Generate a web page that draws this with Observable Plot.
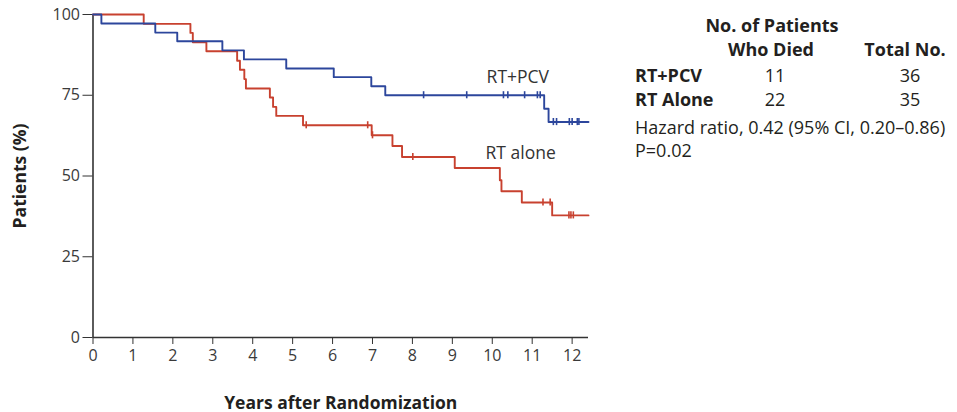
<!DOCTYPE html>
<html>
<head>
<meta charset="utf-8">
<script src="https://cdn.jsdelivr.net/npm/d3@7"></script>
<script src="https://cdn.jsdelivr.net/npm/@observablehq/plot@0.6"></script>
<style>
  html, body { margin: 0; padding: 0; background: #fff; }
  #wrap { position: relative; width: 957px; height: 412px; font-family: "Open Sans", sans-serif; color: #231f20; }
  #wrap svg { position: absolute; left: 0; top: 0; }
  [aria-label="x-axis label"], [aria-label="y-axis label"] { font-weight: 700; font-size: 17.5px; fill: #231f20; }
  [aria-label="x-axis tick label"], [aria-label="y-axis tick label"] { fill: #3a3a3a; }
  .lg { position: absolute; font-size: 18px; white-space: nowrap; line-height: 1; transform: translateY(-50%); }
  .b { font-weight: 700; }
  .c { transform: translate(-50%, -50%); }
</style>
</head>
<body>
<div id="wrap"></div>
<script>
// ---- data ----
const pcvTime  = [0, 0.21, 1.56, 2.11, 3.24, 3.78, 4.84, 6.03, 6.97, 7.32, 11.3, 11.41, 12.41];
const pcvSurv  = [100, 97.2, 94.4, 91.7, 88.9, 86.1, 83.3, 80.6, 77.8, 75.0, 70.8, 66.7, 66.7];
const pcvCensorTime = [8.28, 9.36, 10.28, 10.39, 10.81, 11.13, 11.2, 11.53, 11.61, 11.93, 12.0, 12.13, 12.17];
const pcvCensorSurv = [75.0, 75.0, 75.0, 75.0, 75.0, 75.0, 75.0, 66.7, 66.7, 66.7, 66.7, 66.7, 66.7];

const aloneTime = [0, 1.27, 2.44, 2.5, 2.84, 3.61, 3.68, 3.79, 3.83, 4.43, 4.51, 4.59, 5.26, 6.98, 7.5, 7.74, 9.06, 10.19, 10.23, 10.74, 11.5, 12.41];
const aloneSurv = [100, 97.1, 94.3, 91.4, 88.6, 85.7, 82.9, 80.0, 77.1, 74.3, 71.4, 68.6, 65.7, 62.6, 59.3, 55.9, 52.5, 48.7, 45.3, 41.8, 37.8, 37.8];
const aloneCensorTime = [5.34, 6.88, 7.0, 8.01, 11.27, 11.45, 11.92, 11.97, 12.03];
const aloneCensorSurv = [65.7, 65.7, 62.6, 55.9, 41.8, 41.8, 37.8, 37.8, 37.8];

const xTicks = [0, 1, 2, 3, 4, 5, 6, 7, 8, 9, 10, 11, 12];
const yTicks = [0, 25, 50, 75, 100];

const groups = ["RT+PCV", "RT Alone"];
const died = [11, 22];
const total = [36, 35];
const seriesLabels = ["RT+PCV", "RT alone"];

// ---- build tables ----
const blue = "#2c469c", red = "#c8412f";
const pcv = pcvTime.map((t, i) => ({t, s: pcvSurv[i]}));
const alone = aloneTime.map((t, i) => ({t, s: aloneSurv[i]}));
const pcvC = pcvCensorTime.map((t, i) => ({t, s: pcvCensorSurv[i]}));
const aloneC = aloneCensorTime.map((t, i) => ({t, s: aloneCensorSurv[i]}));

const chart = Plot.plot({
  width: 957,
  height: 412,
  marginLeft: 92.5,
  marginRight: 369,
  marginTop: 14,
  marginBottom: 75,
  style: {fontFamily: "Open Sans, sans-serif", fontSize: "16px", color: "#333", background: "transparent", overflow: "visible"},
  x: {domain: [0, 12.41], ticks: xTicks, tickSize: 7, tickPadding: 5, label: "Years after Randomization", labelAnchor: "center", labelArrow: "none", labelOffset: 71},
  y: {domain: [0, 100], ticks: yTicks, tickSize: 10, tickPadding: 3, label: "Patients (%)", labelAnchor: "center", labelArrow: "none", labelOffset: 79},
  marks: [
    Plot.ruleY([0], {stroke: "#333", strokeWidth: 1.6}),
    Plot.ruleX([0], {stroke: "#333", strokeWidth: 1.6}),
    Plot.line(alone, {x: "t", y: "s", curve: "step-after", stroke: red, strokeWidth: 1.9}),
    Plot.line(pcv, {x: "t", y: "s", curve: "step-after", stroke: blue, strokeWidth: 1.9}),
    Plot.ruleX(aloneC, {x: "t", y1: d => d.s - 1.1, y2: d => d.s + 1.1, stroke: red, strokeWidth: 1.6}),
    Plot.ruleX(pcvC, {x: "t", y1: d => d.s - 1.1, y2: d => d.s + 1.1, stroke: blue, strokeWidth: 1.6}),
    Plot.text([seriesLabels[0]], {x: 10.64, y: 80.6, text: d => d, textAnchor: "middle", lineAnchor: "middle", fill: "#333", fontSize: 17.5}),
    Plot.text([seriesLabels[1]], {x: 10.71, y: 57, text: d => d, textAnchor: "middle", lineAnchor: "middle", fill: "#333", fontSize: 17.5})
  ]
});

const wrap = document.getElementById("wrap");
wrap.appendChild(chart);

// ---- legend table (HTML) ----
function add(text, x, y, cls) {
  const d = document.createElement("div");
  d.className = "lg " + (cls || "");
  d.style.left = x + "px";
  d.style.top = y + "px";
  d.textContent = text;
  wrap.appendChild(d);
}
add("No. of Patients", 772, 25, "b c");
add("Who Died", 771, 49, "b c");
add("Total No.", 905, 49, "b c");
groups.forEach((g, i) => {
  const y = 75 + i * 24;
  add(g, 635, y, "b");
  add(String(died[i]), 775, y, "c");
  add(String(total[i]), 910, y, "c");
});
add("Hazard ratio, 0.42 (95% CI, 0.20\u20130.86)", 635, 127, "");
add("P=0.02", 635, 150, "");
</script>
</body>
</html>
